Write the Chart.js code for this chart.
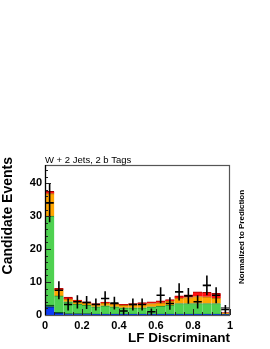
<!DOCTYPE html>
<html><head><meta charset="utf-8">
<script src="https://cdn.jsdelivr.net/npm/chart.js@4/dist/chart.umd.min.js"></script>
<style>html,body{margin:0;padding:0;background:#fff;}canvas{display:block;}</style>
</head><body>
<canvas id="c" width="270" height="349"></canvas>
<script>
// ---- data ----
const binCenters = [0.025,0.075,0.125,0.175,0.225,0.275,0.325,0.375,0.425,0.475,
                    0.525,0.575,0.625,0.675,0.725,0.775,0.825,0.875,0.925,0.975];
const binHalfWidth = 0.025;
const blueComp   = [2.5,0.6,0.3,0.3,0.3,0.2,0.2,0.2,0.2,0.2,0.2,0.2,0.2,0.2,0.2,0.2,0.2,0.2,0.2,0.1];
const darkGreen  = [0.5,0.2,0.1,0.1,0.1,0.1,0.1,0.1,0.1,0.1,0.1,0.1,0.1,0.1,0.1,0.1,0.1,0.1,0.1,0.0];
const lfGreen    = [27.0,5.0,3.6,2.9,2.6,2.2,2.5,2.2,1.9,1.9,1.9,2.2,2.4,2.7,3.2,3.2,3.2,3.2,3.2,0.2];
const orangeComp = [6.8,1.8,0.8,0.9,0.7,0.7,0.8,0.7,0.7,0.9,1.1,1.0,1.0,1.2,1.6,1.8,2.1,2.0,1.6,0.2];
const redComp    = [0.7,0.5,0.6,0.3,0.3,0.3,0.3,0.3,0.3,0.4,0.5,0.5,0.6,0.5,0.7,0.8,1.4,1.4,1.5,0.2];
const otherComp  = [0,0,0,0,0,0,0,0,0,0,0,0,0,0,0,0,0,0,0,1.6];
const dataVals   = [34,7.5,3.2,4.0,3.8,3.2,5.0,3.6,1.2,3.2,3.2,1.0,6.0,3.5,7.0,5.8,4.0,9.0,6.0,1.7];
const dataErrs   = [5.9,2.7,1.8,2.0,2.0,1.8,2.2,1.9,1.1,1.8,1.8,1.0,2.4,1.9,2.6,2.4,2.0,3.0,2.4,1.3];
const xTickValues = [0,0.2,0.4,0.6,0.8,1];
const yTickValues = [0,10,20,30,40];
const yMinorTicks = [2,4,6,8,12,14,16,18,22,24,26,28,32,34,36,38,42,44];
const xMinorTicks = [0.05,0.1,0.15,0.25,0.3,0.35,0.45,0.5,0.55,0.65,0.7,0.75,0.85,0.9,0.95];
const titleText = 'W + 2 Jets, 2 b Tags';
const sideText = 'Normalized to Prediction';
const yTitleText = 'Candidate Events';

const FONT = "'Liberation Sans', Arial, Helvetica, sans-serif";
const topBorder = {top:1,left:0,right:0,bottom:0};

function ds(label, values, bg, border, bw) {
  return {label, data: values, backgroundColor: bg, borderColor: border,
          borderWidth: bw || topBorder, borderSkipped: false,
          stack: 's', xAxisID: 'x', yAxisID: 'y',
          barPercentage: 1, categoryPercentage: 1};
}

const overlay = {
  id: 'overlay',
  afterDatasetsDraw(chart) {
    const ctx = chart.ctx;
    const a = chart.chartArea;
    const xs = chart.scales.x2, ys = chart.scales.y;
    ctx.save();
    // data points with error bars
    ctx.strokeStyle = '#000';
    ctx.lineWidth = 1.6;
    for (let i = 0; i < dataVals.length; i++) {
      const x0 = xs.getPixelForValue(binCenters[i] - binHalfWidth);
      const x1 = xs.getPixelForValue(binCenters[i] + binHalfWidth);
      const xc = xs.getPixelForValue(binCenters[i]);
      const yc = ys.getPixelForValue(dataVals[i]);
      const ylo = ys.getPixelForValue(Math.max(0, dataVals[i] - dataErrs[i]));
      const yhi = ys.getPixelForValue(dataVals[i] + dataErrs[i]);
      ctx.beginPath();
      ctx.moveTo(x0 + 0.5, yc); ctx.lineTo(x1 - 0.5, yc);
      ctx.moveTo(xc, ylo); ctx.lineTo(xc, yhi);
      ctx.stroke();
    }
    // axis ticks (inward)
    ctx.strokeStyle = '#222';
    ctx.lineWidth = 1;
    ctx.beginPath();
    yTickValues.forEach(v => { const y = Math.round(ys.getPixelForValue(v)) + 0.5; ctx.moveTo(a.left, y); ctx.lineTo(a.left + 6, y); });
    yMinorTicks.forEach(v => { const y = Math.round(ys.getPixelForValue(v)) + 0.5; ctx.moveTo(a.left, y); ctx.lineTo(a.left + 3, y); });
    xTickValues.forEach(v => { const x = Math.round(xs.getPixelForValue(v)) + 0.5; ctx.moveTo(x, a.bottom); ctx.lineTo(x, a.bottom - 6); });
    xMinorTicks.forEach(v => { const x = Math.round(xs.getPixelForValue(v)) + 0.5; ctx.moveTo(x, a.bottom); ctx.lineTo(x, a.bottom - 3); });
    ctx.stroke();
    // frame
    ctx.strokeStyle = '#555';
    ctx.lineWidth = 1.2;
    ctx.strokeRect(a.left + 0.5, a.top + 0.5, a.right - a.left - 1, a.bottom - a.top);
    ctx.strokeStyle = '#000';
    ctx.beginPath(); ctx.moveTo(a.left + 0.5, a.top); ctx.lineTo(a.left + 0.5, a.bottom); ctx.stroke();
    // title
    ctx.fillStyle = '#000';
    ctx.font = '9.5px ' + FONT;
    ctx.textAlign = 'left';
    ctx.textBaseline = 'alphabetic';
    ctx.fillText(titleText, a.left, a.top - 2.5);
    // y axis title
    ctx.save();
    ctx.font = 'bold 14px ' + FONT;
    ctx.translate(8.5, a.top - 8);
    ctx.rotate(-Math.PI / 2);
    ctx.textAlign = 'right';
    ctx.textBaseline = 'middle';
    ctx.fillText(yTitleText, 0, 0);
    ctx.restore();
    // side label
    ctx.font = 'bold 8px ' + FONT;
    ctx.translate(a.right + 12, (a.top + a.bottom) / 2 - 3);
    ctx.rotate(-Math.PI / 2);
    ctx.textAlign = 'center';
    ctx.textBaseline = 'middle';
    ctx.fillText(sideText, 0, 0);
    ctx.restore();
  }
};

new Chart(document.getElementById('c'), {
  type: 'bar',
  data: {
    labels: binCenters.map(String),
    datasets: [
      ds('Wbb', blueComp, '#0b3cf5', '#001a80'),
      ds('Single top', darkGreen, '#0d6b25', '#064015'),
      ds('Mistag', lfGreen, '#4ed150', '#2a8a2e'),
      ds('Wcc', orangeComp, '#ffa500', '#b56a00'),
      ds('Top', redComp, '#ff1111', '#a00000'),
      ds('Other', otherComp, '#ffffff', '#777777', {top:1,left:1,right:1,bottom:0})
    ]
  },
  options: {
    responsive: false,
    animation: false,
    devicePixelRatio: 1,
    layout: {padding: {top: 165, right: 40, left: 0, bottom: 0}},
    plugins: {legend: {display: false}, tooltip: {enabled: false}},
    scales: {
      x: {type: 'category', display: false, stacked: true, offset: true},
      x2: {
        type: 'linear', position: 'bottom', min: 0, max: 1, offset: false,
        afterBuildTicks: s => { s.ticks = xTickValues.map(v => ({value: v})); },
        grid: {display: false, drawTicks: false, offset: false},
        border: {display: false},
        ticks: {font: {family: FONT, weight: 'bold', size: 11}, color: '#000', padding: 4,
                maxRotation: 0, autoSkip: false, callback: v => String(v)},
        title: {display: true, text: 'LF Discriminant', align: 'end', color: '#000',
                font: {family: FONT, weight: 'bold', size: 13.5}, padding: {top: 0, bottom: 3}},
        afterFit: s => { s.height = 34; }
      },
      y: {
        stacked: true, min: 0, max: 45.5,
        afterBuildTicks: s => { s.ticks = yTickValues.map(v => ({value: v})); },
        grid: {display: false, drawTicks: false},
        border: {display: false},
        ticks: {font: {family: FONT, weight: 'bold', size: 11}, color: '#000', padding: 3},
        afterFit: s => { s.width = 45; }
      }
    }
  },
  plugins: [overlay]
});
</script>
</body></html>
